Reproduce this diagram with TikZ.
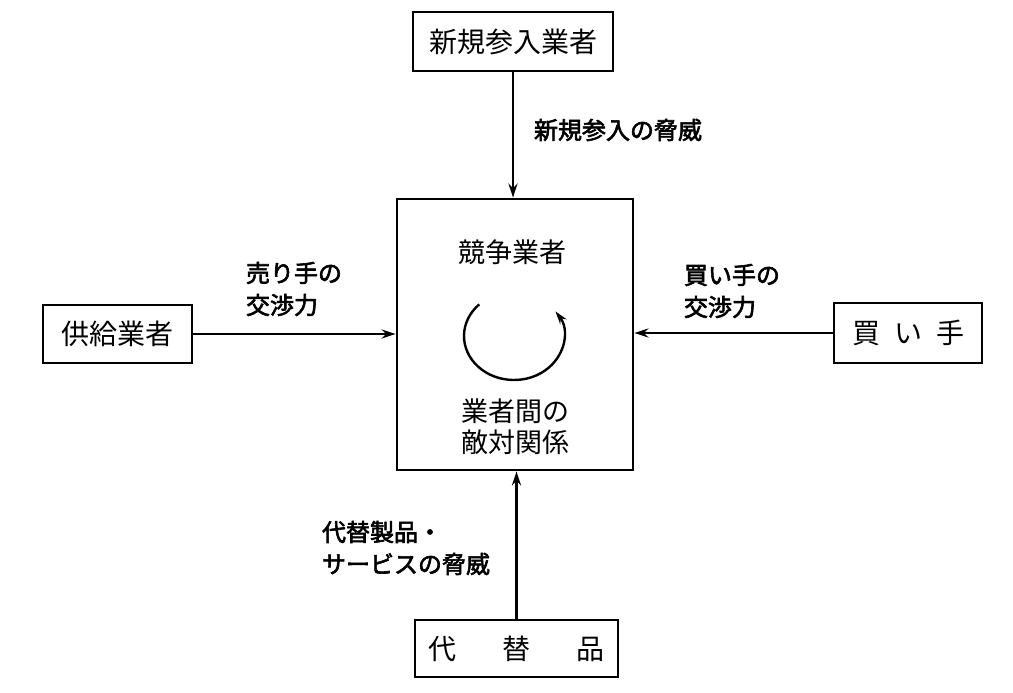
\documentclass[tikz,border=0pt]{standalone}
\usepackage{fontspec}
\newfontfamily\jp{Noto Sans CJK JP}
\newfontfamily\jpb[FakeBold=2.5]{Noto Sans CJK JP}
\usetikzlibrary{arrows.meta}
\begin{document}
\begin{tikzpicture}[x=1pt,y=-1pt,
  box/.style={draw,line width=2.8pt,inner sep=0pt,font=\jp\fontsize{28}{32}\selectfont},
  lbl/.style={inner sep=0pt,align=left,font=\jpb\fontsize{24}{32}\selectfont},
  inlbl/.style={inner sep=0pt,align=center,font=\jp\fontsize{27}{31}\selectfont},
  conn/.style={line width=2.4pt,-{Stealth[length=14pt,width=9pt]}}]
\useasboundingbox (0,0) rectangle (1013,693);
\node[box,minimum width=200pt,minimum height=59pt] (top) at (513,41.5) {新規参入業者};
\node[box,minimum width=236pt,minimum height=271pt] (center) at (515,334.5) {};
\node[box,minimum width=149pt,minimum height=58pt] (left) at (117.5,334) {供給業者};
\node[box,minimum width=148pt,minimum height=60pt] (right) at (908,333) {買\hspace{14pt}い\hspace{14pt}手};
\node[box,minimum width=203pt,minimum height=57pt] (bottom) at (516.5,648.5) {代\hspace{46pt}替\hspace{46pt}品};
\draw[conn] (top.south) -- (top.south |- center.north);
\draw[conn] (bottom.north) -- (bottom.north |- center.south);
\draw[conn] (left.east) -- (left.east -| center.west);
\draw[conn] (right.west) -- (right.west -| center.east);
\node[lbl] (lbltop) at (618,130) {新規参入の脅威};
\node[lbl] (lblleft) at (294,289) {売り手の\\交渉力};
\node[lbl] (lblright) at (732,291) {買い手の\\交渉力};
\node[lbl] (lblbot) at (406,548) {代替製品・\\サービスの脅威};
\node[inlbl] (compet) at (512,252) {競争業者};
\node[inlbl] (rival) at (515,427) {業者間の\\敵対関係};
\coordinate (cc) at (514,336);
\draw[line width=2.4pt,-{Stealth[length=13pt,width=8pt]}] (cc) ++(226:50 and 44) arc[start angle=226,end angle=-34,x radius=50,y radius=44];
\end{tikzpicture}
\end{document}
